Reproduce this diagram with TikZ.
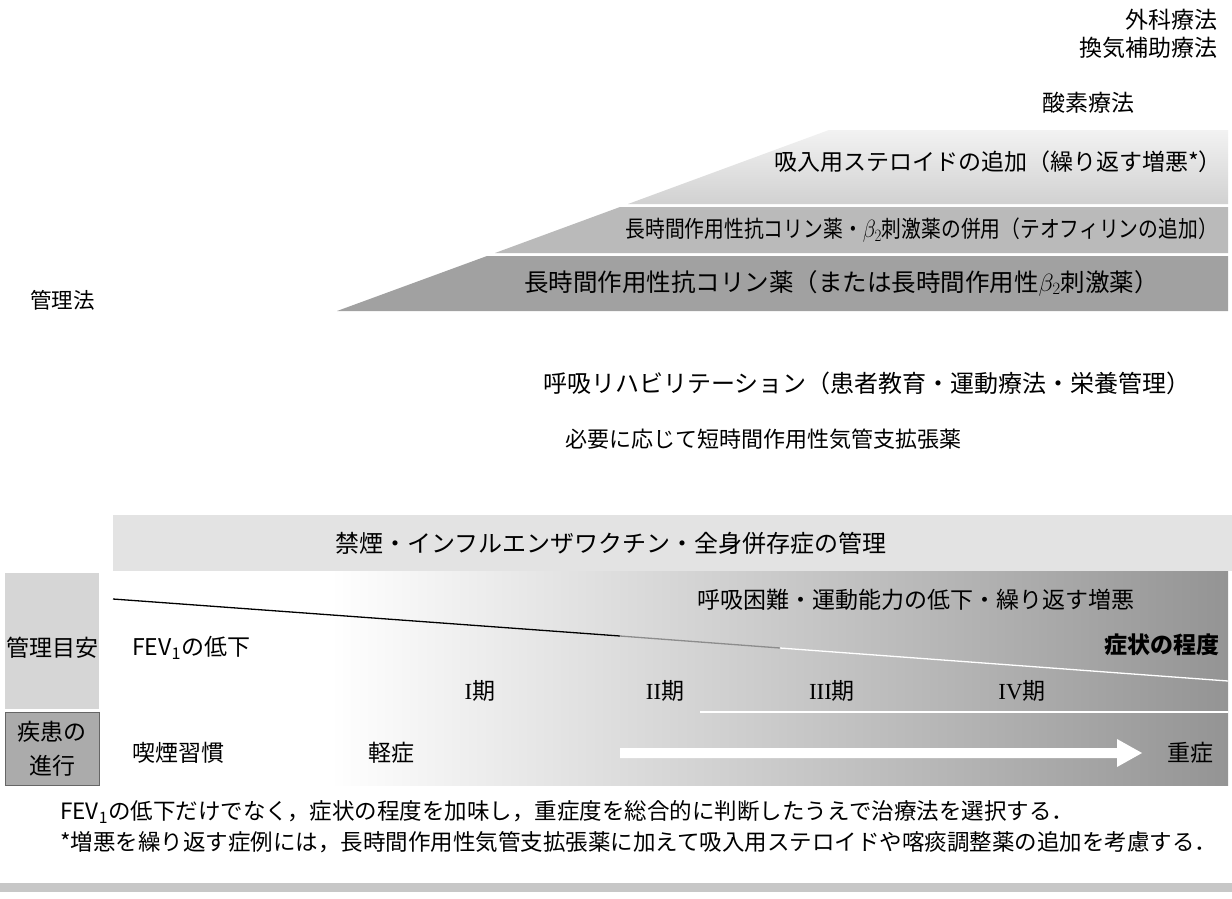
\documentclass[tikz,border=0pt]{standalone}
\usepackage{fontspec}
\setmainfont{Noto Sans CJK JP}
\newfontfamily\romfont{Liberation Serif}
\begin{document}
\begin{tikzpicture}[x=1pt,y=-1pt,
  txt/.style={inner sep=0pt, font=\fontsize{23}{27}\selectfont},
  fn/.style={inner sep=0pt, anchor=west, font=\fontsize{22.5}{26}\selectfont},
  stage/.style={inner sep=0pt, font=\fontsize{23}{27}\selectfont}]
\useasboundingbox (0,0) rectangle (1232,898);
\fill[white] (0,0) rectangle (1232,898);

% ---- treatment bands (trapezoid)
\shade[top color=black!5, bottom color=black!18] (829,130) -- (1228,130) -- (1228,204) -- (628,204) -- cycle;
\fill[black!27] (620,207) -- (1228,207) -- (1228,253) -- (495,253) -- cycle;
\fill[black!37] (487,256) -- (1228,256) -- (1228,311) -- (337,311) -- cycle;

% ---- upper texts
\node[txt, anchor=east] (geka) at (1218,20) {外科療法};
\node[txt, anchor=east] (kanki) at (1218,48) {換気補助療法};
\node[txt, anchor=west] (sanso) at (1042,103) {酸素療法};
\node[txt, anchor=east] (ics) at (1222,162) {吸入用ステロイドの追加（繰り返す増悪*）};
\node[txt, anchor=east] (combo) at (1218,230) {\scalebox{0.86}[1]{長時間作用性抗コリン薬・$\beta_2$刺激薬の併用（テオフィリンの追加）}};
\node[txt, anchor=west, font=\fontsize{24.5}{28}\selectfont] (lama) at (524,283) {長時間作用性抗コリン薬（または長時間作用性$\beta_2$刺激薬）};
\node[txt, anchor=west, font=\fontsize{21.5}{26}\selectfont] (kanri) at (30,300) {管理法};
\node[txt, anchor=west, font=\fontsize{24}{28}\selectfont] (rehab) at (543,383) {呼吸リハビリテーション（患者教育・運動療法・栄養管理）};
\node[txt, anchor=west, font=\fontsize{22}{26}\selectfont] (saba) at (565,439) {必要に応じて短時間作用性気管支拡張薬};

% ---- lower region
\fill[black!11] (113,515) rectangle (1232,571);
\node[txt, anchor=west, font=\fontsize{24}{28}\selectfont] (kinen) at (335,543) {禁煙・インフルエンザワクチン・全身併存症の管理};

\shade[left color=white, right color=black!42] (330,571) rectangle (1228,785);
\fill[black!16] (5,573) rectangle (99,709);
\fill[black!33, draw=black!60, line width=0.8pt] (5,712) rectangle (99,785);

\coordinate (l0) at (113,599);
\coordinate (l1) at (620,636);
\coordinate (l2) at (780,648);
\coordinate (l3) at (1228,681);
\draw[line width=1.3pt, black] (l0) -- (l1);
\draw[line width=1.3pt, black!45] (l1) -- (l2);
\draw[line width=1.3pt, white] (l2) -- (l3);
\coordinate (h0) at (700,712);
\coordinate (h1) at (1228,712);
\draw[line width=1.5pt, white] (h0) -- (h1);

% white arrow
\fill[white] (620,748) -- (1117,748) -- (1117,739) -- (1142,753) -- (1117,767) -- (1117,758) -- (620,758) -- cycle;

\node[txt, anchor=west] (dysp) at (697,600) {呼吸困難・運動能力の低下・繰り返す増悪};
\node[txt, anchor=east, font=\fontsize{23}{27}\selectfont\bfseries] (sympt) at (1220,645) {症状の程度};
\node[txt, anchor=center] (meyasu) at (52,648) {管理目安};
\node[txt, anchor=west] (fev) at (132,648) {FEV\textsubscript{1}の低下};
\node[stage] (s1) at (480,691) {{\romfont I}期};
\node[stage] (s2) at (665,691) {{\romfont II}期};
\node[stage] (s3) at (832,691) {{\romfont III}期};
\node[stage] (s4) at (1022,691) {{\romfont IV}期};
\node[txt, anchor=center] (shik) at (52,732) {疾患の};
\node[txt, anchor=center] (shin) at (52,766) {進行};
\node[txt, anchor=west] (smoke) at (132,753) {喫煙習慣};
\node[txt, anchor=west] (mild) at (368,753) {軽症};
\node[txt, anchor=east] (severe) at (1214,753) {重症};

% footnotes
\node[fn] (fn1) at (60,812) {FEV\textsubscript{1}の低下だけでなく，症状の程度を加味し，重症度を総合的に判断したうえで治療法を選択する．};
\node[fn] (fn2) at (60,842) {*増悪を繰り返す症例には，長時間作用性気管支拡張薬に加えて吸入用ステロイドや喀痰調整薬の追加を考慮する．};

% bottom strip
\fill[black!22] (0,883) rectangle (1232,892);
\end{tikzpicture}
\end{document}
